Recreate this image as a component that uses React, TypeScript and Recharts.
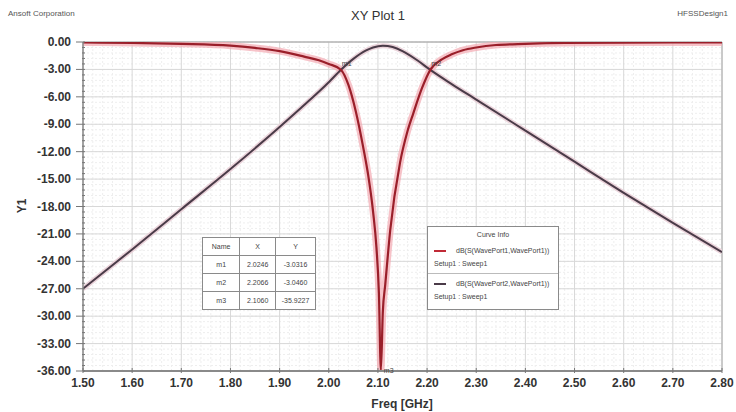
import { LineChart, Line, XAxis, YAxis, ReferenceLine, ReferenceDot } from "recharts";

// axis ticks
const xTicks = [1.5, 1.6, 1.7, 1.8, 1.9, 2.0, 2.1, 2.2, 2.3, 2.4, 2.5, 2.6, 2.7, 2.8];
const yTicks = [0, -3, -6, -9, -12, -15, -18, -21, -24, -27, -30, -33, -36];

// dB(S(WavePort1,WavePort1))
const s11Freq = [
  1.5, 1.6, 1.7, 1.8, 1.85, 1.9, 1.95, 1.98, 2.0, 2.0246, 2.04, 2.055, 2.07, 2.08, 2.09, 2.097,
  2.102, 2.106, 2.11, 2.115, 2.125, 2.145, 2.16, 2.172, 2.19, 2.2066, 2.23, 2.25, 2.273, 2.3,
  2.34, 2.4, 2.48, 2.6, 2.7, 2.8,
];
const s11Db = [
  -0.05, -0.1, -0.2, -0.4, -0.65, -1.0, -1.6, -2.0, -2.4, -3.03, -4.7, -7.6, -11.5, -14.5, -18.5,
  -22.5, -27.5, -35.9, -29.5, -26.5, -20.6, -13.2, -9.8, -7.8, -5.0, -3.05, -1.9, -1.35, -0.9,
  -0.6, -0.33, -0.2, -0.1, -0.06, -0.05, -0.05,
];

// dB(S(WavePort2,WavePort1))
const s21Freq = [
  1.5, 1.6, 1.7, 1.8, 1.9, 1.95, 2.0, 2.025, 2.05, 2.075, 2.09, 2.11, 2.13, 2.15, 2.18, 2.2066,
  2.25, 2.3, 2.4, 2.5, 2.6, 2.7, 2.8,
];
const s21Db = [
  -27.0, -22.7, -18.3, -13.9, -9.3, -6.9, -4.4, -3.03, -1.85, -0.95, -0.6, -0.4, -0.55, -1.0,
  -2.0, -3.05, -4.6, -6.3, -9.7, -13.1, -16.5, -19.8, -23.0,
];

// markers
const markerNames = ["m1", "m2", "m3"];
const markerFreq = [2.0246, 2.2066, 2.106];
const markerDb = [-3.0316, -3.046, -35.9227];

const curveNames = ["dB(S(WavePort1,WavePort1))", "dB(S(WavePort2,WavePort1))"];
const setupName = "Setup1 : Sweep1";

const s11Data = s11Freq.map((f, i) => ({ f, v: s11Db[i] }));
const s21Data = s21Freq.map((f, i) => ({ f, v: s21Db[i] }));

// minor grid: 5 divisions per major
const xMinor: number[] = [];
for (let i = 0; i <= 65; i++) if (i % 5 !== 0) xMinor.push(+(1.5 + i * 0.02).toFixed(3));
const yMinor: number[] = [];
for (let i = 0; i <= 60; i++) yMinor.push(+(-i * 0.6).toFixed(2));

const font = "'Liberation Sans', Arial, sans-serif";
const S11_COLOR = "#9a1f2a";
const S21_COLOR = "#4a3b48";

function YTick(props: any) {
  const { x, y, payload } = props;
  const v: number = payload.value;
  const major = Math.abs(v / 3 - Math.round(v / 3)) < 1e-6;
  return (
    <g>
      <line x1={major ? x - 7 : x - 1} x2={x + 2} y1={y} y2={y} stroke="#777" strokeWidth={1} />
      {major && (
        <text x={x - 12} y={y} dy={4} textAnchor="end" fontSize={12} fontWeight="bold" fill="#333" fontFamily={font}>
          {v.toFixed(2)}
        </text>
      )}
    </g>
  );
}

function XTick(props: any) {
  const { x, y, payload } = props;
  return (
    <g>
      <line x1={x} x2={x} y1={y - 3} y2={y + 2} stroke="#777" />
      <text x={x} y={y + 16} textAnchor="middle" fontSize={12} fontWeight="bold" fill="#333" fontFamily={font}>
        {payload.value.toFixed(2)}
      </text>
    </g>
  );
}

const cell: React.CSSProperties = {
  border: "1px solid #8a8a8a",
  textAlign: "center",
  fontSize: 7,
  color: "#444",
  padding: 0,
  height: 17,
};

export default function App() {
  return (
    <div style={{ position: "absolute", left: 0, top: 0, width: 736, height: 412, background: "#fff", fontFamily: font }}>
      <div style={{ position: "absolute", left: 8, top: 9, fontSize: 8, color: "#555" }}>Ansoft Corporation</div>
      <div style={{ position: "absolute", left: 0, width: 756, top: 8, textAlign: "center", fontSize: 13, color: "#333" }}>
        XY Plot 1
      </div>
      <div style={{ position: "absolute", right: 8, top: 9, fontSize: 8, color: "#555" }}>HFSSDesign1</div>

      <LineChart width={736} height={412} data={s11Data} margin={{ top: 42, right: 14, bottom: 11, left: 23 }}>
        {xMinor.map((x) => (
          <ReferenceLine key={`xm${x}`} x={x} stroke="#eeeeee" strokeDasharray="2 2" />
        ))}
        {yMinor.map((y) => (
          <ReferenceLine key={`ym${y}`} y={y} stroke="#eeeeee" strokeDasharray="2 2" />
        ))}
        {xTicks.map((x) => (
          <ReferenceLine key={`x${x}`} x={x} stroke="#d8d8d8" />
        ))}
        {yTicks.map((y) => (
          <ReferenceLine key={`y${y}`} y={y} stroke="#d8d8d8" />
        ))}
        <ReferenceLine y={0} stroke="#a0a0a0" />
        <ReferenceLine x={2.8} stroke="#a8a8a8" />
        <XAxis
          dataKey="f"
          type="number"
          domain={[1.5, 2.8]}
          ticks={xTicks}
          interval={0}
          height={30}
          tickSize={0}
          tickMargin={0}
          tickLine={false}
          tick={<XTick />}
          axisLine={{ stroke: "#8a8a8a", strokeWidth: 2 }}
          allowDataOverflow
        />
        <YAxis
          type="number"
          domain={[-36, 0]}
          ticks={yMinor}
          interval={0}
          width={60}
          tickSize={0}
          tickMargin={0}
          tickLine={false}
          tick={<YTick />}
          axisLine={{ stroke: "#8a8a8a", strokeWidth: 1.5 }}
          allowDataOverflow
        />
        <Line data={s21Data} dataKey="v" type="monotone" stroke="#ead3da" strokeWidth={5} dot={false} isAnimationActive={false} />
        <Line data={s11Data} dataKey="v" type="monotone" stroke="#f4aab2" strokeOpacity={0.7} strokeWidth={7} dot={false} isAnimationActive={false} />
        <Line data={s21Data} dataKey="v" type="monotone" stroke={S21_COLOR} strokeWidth={2} dot={false} isAnimationActive={false} />
        <Line data={s11Data} dataKey="v" type="monotone" stroke={S11_COLOR} strokeWidth={2.2} dot={false} isAnimationActive={false} />
        {markerNames.map((m, i) => (
          <ReferenceDot
            key={m}
            x={markerFreq[i]}
            y={markerDb[i]}
            r={0}
            shape={(p: any) => (
              <text x={p.cx + (i === 2 ? 3 : 1)} y={p.cy + (i === 2 ? 3 : -4)} fontSize={7} fill="#444" fontFamily={font}>
                {m}
              </text>
            )}
          />
        ))}
      </LineChart>

      <div style={{ position: "absolute", left: 22, top: 206, transform: "translate(-50%, -50%) rotate(-90deg)", fontSize: 12, fontWeight: "bold", color: "#333" }}>
        Y1
      </div>
      <div style={{ position: "absolute", left: 0, width: 804, top: 397, textAlign: "center", fontSize: 12, fontWeight: "bold", color: "#333" }}>
        Freq [GHz]
      </div>

      {/* marker table */}
      <table style={{ position: "absolute", left: 202, top: 237, width: 114, borderCollapse: "collapse", background: "#fff", fontFamily: font }}>
        <tbody>
          <tr>
            <td style={{ ...cell, width: 38 }}>Name</td>
            <td style={{ ...cell, width: 36 }}>X</td>
            <td style={{ ...cell, width: 40 }}>Y</td>
          </tr>
          {markerNames.map((m, i) => (
            <tr key={m}>
              <td style={cell}>{m}</td>
              <td style={cell}>{markerFreq[i].toFixed(4)}</td>
              <td style={cell}>{markerDb[i].toFixed(4)}</td>
            </tr>
          ))}
        </tbody>
      </table>

      {/* curve info */}
      <div style={{ position: "absolute", left: 427, top: 226, width: 130, height: 82, border: "1px solid #8a8a8a", background: "#fff", fontSize: 7, color: "#444" }}>
        <div style={{ textAlign: "center", marginTop: 4 }}>Curve Info</div>
        {curveNames.map((c, i) => (
          <div key={c} style={{ borderTop: i === 1 ? "1px solid #bbb" : "none", marginTop: i === 1 ? 3 : 6, paddingTop: i === 1 ? 3 : 0 }}>
            <div style={{ display: "flex", alignItems: "center", height: 13 }}>
              <span style={{ display: "inline-block", width: 12, height: 2, background: i === 0 ? "#c02a36" : S21_COLOR, marginLeft: 6, marginRight: 10 }} />
              {c}
            </div>
            <div style={{ height: 13, paddingLeft: 6, lineHeight: "13px" }}>{setupName}</div>
          </div>
        ))}
      </div>
    </div>
  );
}
